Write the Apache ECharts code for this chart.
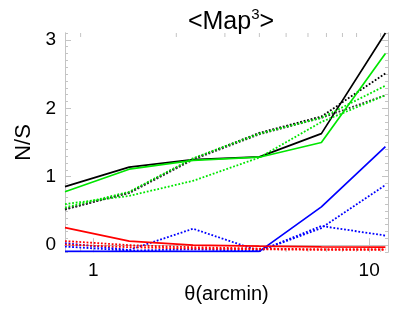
<!DOCTYPE html>
<html>
<head>
<meta charset="utf-8">
<script src="https://cdn.jsdelivr.net/npm/echarts@6/dist/echarts.min.js"></script>
<style>
html,body{margin:0;padding:0;background:#fff;}
#c{width:399px;height:319px;}
</style>
</head>
<body>
<div id="c"></div>
<script>
// ---- data ----
const thetas     = [0.79, 1.35, 2.3, 4.0, 6.71, 11.45];
const blackSolid = [0.855, 1.14, 1.25, 1.29, 1.63, 3.10];
const greenSolid = [0.78, 1.11, 1.24, 1.285, 1.50, 2.80];
const blackDot1  = [0.52, 0.77, 1.26, 1.64, 1.88, 2.51];
const blackDot2  = [0.53, 0.76, 1.25, 1.62, 1.86, 2.19];
const greenDot1  = [0.55, 0.78, 1.27, 1.63, 1.86, 2.33];
const greenDot2  = [0.60, 0.72, 0.94, 1.28, 1.80, 2.19];
const blueSolid  = [-0.09, -0.09, -0.09, -0.09, 0.56, 1.44];
const blueDot1   = [0.03, -0.07, 0.24, -0.085, 0.28, 0.14];
const blueDot2   = [-0.02, -0.08, -0.06, -0.085, 0.25, 0.88];
const redSolid   = [0.256, 0.06, 0.0, -0.015, -0.025, -0.03];
const redDot1    = [0.06, 0.0, -0.03, -0.05, -0.06, -0.06];
const redDot2    = [0.01, -0.03, -0.05, -0.06, -0.07, -0.07];

const xMin = 0.79, xMax = 11.7;
const yMin = -0.1, yMax = 3.1;
const yMajorTicks = [0, 1, 2, 3];
const xMinorTicks = [0.9, 2, 3, 4, 5, 6, 7, 8, 9, 11];
const yMinorTicks = [];
for (let i = -1; i <= 31; i++) yMinorTicks.push(Math.round(i * 10) / 100);

const FONT = 'Liberation Sans';
const axisGray = '#c4c4c4';

function pairs(ys) { return thetas.map((t, i) => [t, ys[i]]); }
function line(name, ys, color, dotted) {
  return {
    name: name, type: 'line', data: pairs(ys), symbol: 'none',
    xAxisIndex: 0, yAxisIndex: 0, animation: false, silent: true,
    lineStyle: { color: color, width: dotted ? 1.8 : 1.7, type: dotted ? [1.8, 1.8] : 'solid' }
  };
}

const chart = echarts.init(document.getElementById('c'), null, {renderer: 'canvas'});
const yBase = {
  type: 'value', min: yMin, max: yMax, splitLine: {show: false},
  axisLine: {show: true, lineStyle: {color: axisGray, width: 1}}
};
chart.setOption({
  animation: false,
  backgroundColor: '#fff',
  title: {
    text: '<Map{sup|3}>', left: 226, top: 2, textAlign: 'center',
    textStyle: {
      fontFamily: FONT, fontSize: 25, fontWeight: 'normal', color: '#000', lineHeight: 30,
      rich: { sup: { fontFamily: FONT, fontSize: 15, color: '#000', verticalAlign: 'top', lineHeight: 14 } }
    }
  },
  grid: { left: 65, right: 11, top: 33, bottom: 67, containLabel: false },
  xAxis: [
    {
      type: 'log', logBase: 10, min: xMin, max: xMax, position: 'bottom',
      name: 'θ(arcmin)', nameLocation: 'middle', nameGap: 30,
      nameTextStyle: {fontFamily: FONT, fontSize: 20, color: '#000'},
      axisLine: {show: true, lineStyle: {color: axisGray, width: 1}},
      axisTick: {show: true, inside: true, length: 7, lineStyle: {color: axisGray}},
      axisLabel: {fontFamily: FONT, fontSize: 19, color: '#000', margin: 9, showMinLabel: false, showMaxLabel: false},
      splitLine: {show: false}, minorTick: {show: false}
    },
    {
      type: 'log', logBase: 10, min: xMin, max: xMax, position: 'top',
      axisLine: {show: true, lineStyle: {color: axisGray, width: 1}},
      axisTick: {show: true, inside: true, length: 7, lineStyle: {color: axisGray}},
      axisLabel: {show: false}, splitLine: {show: false}
    }
  ],
  yAxis: [
    Object.assign({}, yBase, {
      position: 'left', name: 'N/S', nameLocation: 'middle', nameGap: 30,
      nameTextStyle: {fontFamily: FONT, fontSize: 22, color: '#000'},
      axisTick: {show: true, inside: true, length: 6, customValues: yMajorTicks, lineStyle: {color: axisGray}},
      axisLabel: {fontFamily: FONT, fontSize: 19, color: '#000', margin: 9, customValues: yMajorTicks}
    }),
    Object.assign({}, yBase, {
      position: 'left',
      axisTick: {show: true, inside: true, length: 3, customValues: yMinorTicks, lineStyle: {color: axisGray}},
      axisLabel: {show: false}
    }),
    Object.assign({}, yBase, {
      position: 'right',
      axisTick: {show: true, inside: true, length: 6, customValues: yMajorTicks, lineStyle: {color: axisGray}},
      axisLabel: {show: false}
    }),
    Object.assign({}, yBase, {
      position: 'right',
      axisTick: {show: true, inside: true, length: 3, customValues: yMinorTicks, lineStyle: {color: axisGray}},
      axisLabel: {show: false}
    })
  ],
  series: [
    {
      type: 'custom', xAxisIndex: 0, yAxisIndex: 0, silent: true, clip: false,
      data: xMinorTicks.map(v => [v]),
      encode: {x: 0},
      renderItem: function (params, api) {
        const x = api.value(0);
        const b = api.coord([x, yMin]);
        const t = api.coord([x, yMax]);
        const st = {stroke: axisGray, lineWidth: 1};
        return {
          type: 'group',
          children: [
            {type: 'line', shape: {x1: b[0], y1: b[1], x2: b[0], y2: b[1] - 4}, style: st},
            {type: 'line', shape: {x1: t[0], y1: t[1], x2: t[0], y2: t[1] + 4}, style: st}
          ]
        };
      }
    },
    line('blackSolid', blackSolid, '#000000', false),
    line('blackDot1', blackDot1, '#000000', true),
    line('blackDot2', blackDot2, '#333333', true),
    line('greenSolid', greenSolid, '#00e600', false),
    line('greenDot1', greenDot1, '#00e600', true),
    line('greenDot2', greenDot2, '#00e600', true),
    line('blueSolid', blueSolid, '#0000ff', false),
    line('blueDot1', blueDot1, '#0000ff', true),
    line('blueDot2', blueDot2, '#0000ff', true),
    line('redSolid', redSolid, '#ff0000', false),
    line('redDot1', redDot1, '#ff0000', true),
    line('redDot2', redDot2, '#ff0000', true)
  ]
});
</script>
</body>
</html>
